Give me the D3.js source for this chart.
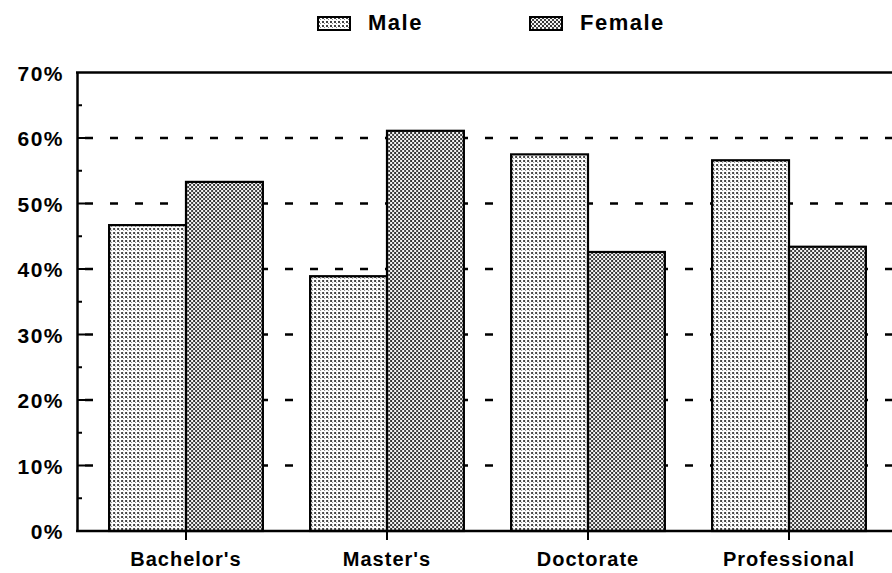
<!DOCTYPE html>
<html>
<head>
<meta charset="utf-8">
<script src="https://cdn.jsdelivr.net/npm/d3@7"></script>
<style>
  body { margin: 0; background: #fff; }
  text { font-family: "Liberation Sans", Arial, sans-serif; font-weight: bold; fill: #000; }
</style>
</head>
<body>
<script>
// chart data
var degrees = ["Bachelor's", "Master's", "Doctorate", "Professional"];
var maleShare = [46.7, 38.9, 57.5, 56.6];
var femaleShare = [53.3, 61.1, 42.6, 43.4];
var seriesNames = ["Male", "Female"];
var yTicks = [0, 10, 20, 30, 40, 50, 60, 70];

var w = 892, h = 573;
var svg = d3.select("body").append("svg").attr("width", w).attr("height", h);

// stipple patterns
var defs = svg.append("defs");
var pm = defs.append("pattern").attr("id", "pMale")
    .attr("width", 4).attr("height", 4).attr("patternUnits", "userSpaceOnUse");
pm.append("rect").attr("width", 4).attr("height", 4).attr("fill", "#fff");
pm.append("rect").attr("x", 0).attr("y", 0).attr("width", 2).attr("height", 2).attr("fill", "#444");
pm.append("rect").attr("x", 2).attr("y", 2).attr("width", 1).attr("height", 1).attr("fill", "#888");

var pf = defs.append("pattern").attr("id", "pFemale")
    .attr("width", 4).attr("height", 4).attr("patternUnits", "userSpaceOnUse");
pf.append("rect").attr("width", 4).attr("height", 4).attr("fill", "#f4f4f4");
pf.append("rect").attr("x", 0).attr("y", 0).attr("width", 2).attr("height", 2).attr("fill", "#333");
pf.append("rect").attr("x", 2).attr("y", 2).attr("width", 2).attr("height", 2).attr("fill", "#444");

var fills = ["url(#pMale)", "url(#pFemale)"];

var x0 = 77, x1 = 892;
var y = d3.scaleLinear().domain([0, 70]).range([531, 72.5]);
var x = d3.scaleBand().domain(degrees).range([85.5, 889.5]).paddingInner(0).paddingOuter(0);
var xs = d3.scaleBand().domain(seriesNames).range([0, x.bandwidth() * 0.765]);

// dashed gridlines
svg.append("g").selectAll("line")
    .data(yTicks.filter(function(d) { return d > 0 && d < 70; }))
    .enter().append("line")
    .attr("x1", x0 + 8).attr("x2", x1)
    .attr("y1", function(d) { return y(d); })
    .attr("y2", function(d) { return y(d); })
    .attr("stroke", "#000").attr("stroke-width", 2.5)
    .attr("stroke-dasharray", "8,17");

// bars
var groups = svg.append("g").selectAll("g")
    .data(degrees).enter().append("g")
    .attr("transform", function(d) {
        return "translate(" + (x(d) + x.bandwidth() / 2 - x.bandwidth() * 0.765 / 2) + ",0)";
    });
groups.selectAll("rect")
    .data(function(d, i) { return [maleShare[i], femaleShare[i]]; })
    .enter().append("rect")
    .attr("x", function(d, j) { return xs(seriesNames[j]); })
    .attr("width", xs.bandwidth())
    .attr("y", function(d) { return y(d); })
    .attr("height", function(d) { return y(0) - y(d); })
    .attr("fill", function(d, j) { return fills[j]; })
    .attr("stroke", "#000").attr("stroke-width", 2.2);

// y axis
var yAxis = d3.axisLeft(y).tickValues(yTicks).tickSize(0).tickPadding(13)
    .tickFormat(function(d) { return d + "%"; });
var gy = svg.append("g").attr("transform", "translate(" + x0 + ",0)").call(yAxis);
gy.select(".domain").attr("stroke", "#000").attr("stroke-width", 2.5);
gy.selectAll("text").attr("font-size", 21).attr("font-family", "Liberation Sans, Arial, sans-serif")
    .attr("font-weight", "bold").attr("letter-spacing", 1.5).attr("dy", "0.36em");

// inward ticks: major and minor
svg.append("g").selectAll("line")
    .data(d3.range(5, 70, 5))
    .enter().append("line")
    .attr("x1", x0)
    .attr("x2", function(d) { return d % 10 === 0 ? x0 + 8 : x0 + 5; })
    .attr("y1", function(d) { return y(d); })
    .attr("y2", function(d) { return y(d); })
    .attr("stroke", "#000").attr("stroke-width", 2);

// top border
svg.append("line").attr("x1", x0 - 1).attr("x2", x1)
    .attr("y1", y(70)).attr("y2", y(70))
    .attr("stroke", "#000").attr("stroke-width", 2.5);

// x axis
var xAxis = d3.axisBottom(x).tickSize(9).tickPadding(11);
var gx = svg.append("g").attr("transform", "translate(0," + y(0) + ")").call(xAxis);
gx.select(".domain").remove();
gx.selectAll(".tick line").attr("stroke", "#000").attr("stroke-width", 2);
gx.selectAll("text").attr("font-size", 20).attr("font-family", "Liberation Sans, Arial, sans-serif")
    .attr("font-weight", "bold").attr("letter-spacing", 1).attr("dy", "0.75em");
svg.append("line").attr("x1", x0 - 1).attr("x2", x1)
    .attr("y1", y(0)).attr("y2", y(0))
    .attr("stroke", "#000").attr("stroke-width", 2.5);

// legend
var legendX = [318, 530];
var lg = svg.append("g").selectAll("g").data(seriesNames).enter().append("g")
    .attr("transform", function(d, i) { return "translate(" + legendX[i] + ",17)"; });
lg.append("rect").attr("width", 32).attr("height", 13)
    .attr("fill", function(d, i) { return fills[i]; })
    .attr("stroke", "#000").attr("stroke-width", 2);
lg.append("text").attr("x", 50).attr("y", 13)
    .attr("font-size", 22).attr("letter-spacing", 1.5).text(function(d) { return d; });
</script>
</body>
</html>
